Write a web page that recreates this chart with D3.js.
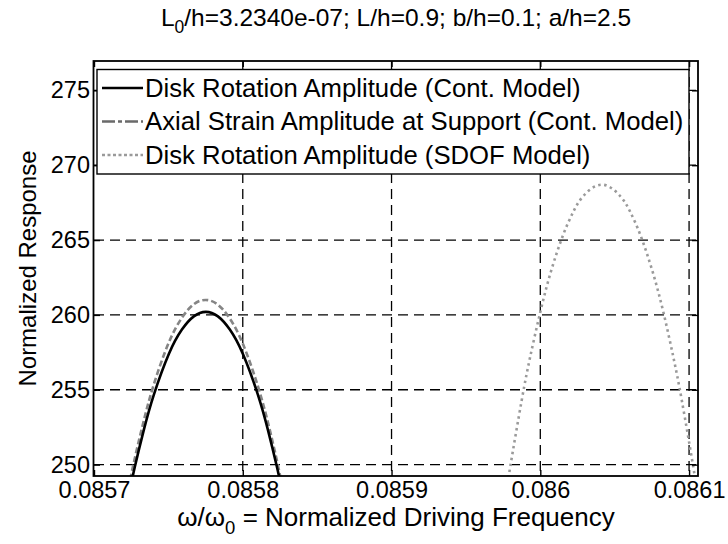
<!DOCTYPE html>
<html>
<head>
<meta charset="utf-8">
<script src="https://cdn.jsdelivr.net/npm/d3@7"></script>
<style>
  html, body { margin: 0; padding: 0; background: #fff; }
  svg { display: block; font-family: "Liberation Sans", Arial, Helvetica, sans-serif; }
</style>
</head>
<body>
<svg id="chart" width="728" height="544"></svg>
<script>
// Frequency-response curves near resonance (normalized units)
const contRotX = [0.0857228, 0.0857275, 0.0857335, 0.0857402, 0.0857503, 0.0857591, 0.0857671, 0.0857752,
                  0.0857833, 0.0857913, 0.0858001, 0.0858102, 0.0858169, 0.0858229, 0.0858276];
const contRotY = [247.73, 249.87, 252.32, 254.66, 257.39, 259.02, 259.90, 260.20,
                  259.90, 259.02, 257.39, 254.66, 252.32, 249.87, 247.73];

const strainX = [0.0857219, 0.0857266, 0.0857327, 0.0857400, 0.0857501, 0.0857589, 0.0857669, 0.0857750,
                 0.0857831, 0.0857911, 0.0857999, 0.0858100, 0.0858174, 0.0858234, 0.0858281];
const strainY = [247.83, 250.06, 252.63, 255.29, 258.11, 259.78, 260.70, 261.00,
                 260.70, 259.78, 258.11, 255.29, 252.63, 250.06, 247.83];

const sdofX = [0.0859761, 0.0859798, 0.0859875, 0.0859932, 0.0859998, 0.0860070, 0.0860153, 0.0860218, 0.0860285,
               0.0860413, 0.0860541, 0.0860608, 0.0860673, 0.0860756, 0.0860829, 0.0860894, 0.0860951, 0.0861028, 0.0861065];
const sdofY = [247.53, 249.86, 254.30, 257.20, 260.11, 262.85, 265.33, 266.81, 267.89,
               268.70, 267.89, 266.81, 265.33, 262.85, 260.11, 257.20, 254.30, 249.86, 247.53];

const xTicks = [0.0857, 0.0858, 0.0859, 0.0860, 0.0861];
const xTickLabels = ["0.0857", "0.0858", "0.0859", "0.086", "0.0861"];
const yTicks = [250, 255, 260, 265, 270, 275];
const xLimits = [0.0857, 0.086106];
const yLimits = [249.24, 276.96];

const seriesNames = [
  "Disk Rotation Amplitude (Cont. Model)",
  "Axial Strain Amplitude at Support (Cont. Model)",
  "Disk Rotation Amplitude (SDOF Model)"
];

const svg = d3.select("#chart");
const pLeft = 94, pRight = 698, pTop = 61, pBottom = 476;

const x = d3.scaleLinear().domain(xLimits).range([pLeft, pRight]);
const y = d3.scaleLinear().domain(yLimits).range([pBottom, pTop]);

svg.append("defs").append("clipPath").attr("id", "plotClip")
  .append("rect").attr("x", pLeft).attr("y", pTop)
  .attr("width", pRight - pLeft).attr("height", pBottom - pTop);

// dashed grid
const grid = svg.append("g");
grid.selectAll("line.gx").data(xTicks.filter(d => d > xLimits[0])).enter().append("line")
  .attr("x1", d => x(d)).attr("x2", d => x(d)).attr("y1", pTop).attr("y2", pBottom)
  .attr("stroke", "#000").attr("stroke-width", 1.3).attr("stroke-dasharray", "10,6");
grid.selectAll("line.gy").data(yTicks).enter().append("line")
  .attr("x1", pLeft).attr("x2", pRight).attr("y1", d => y(d)).attr("y2", d => y(d))
  .attr("stroke", "#000").attr("stroke-width", 1.3).attr("stroke-dasharray", "10,6");

// curves
const plot = svg.append("g").attr("clip-path", "url(#plotClip)");
const line = d3.line().x(d => x(d[0])).y(d => y(d[1])).curve(d3.curveNatural);
const zip = (a, b) => a.map((v, i) => [v, b[i]]);

plot.append("path").datum(zip(strainX, strainY)).attr("d", line)
  .attr("fill", "none").attr("stroke", "#858585").attr("stroke-width", 2.6).attr("stroke-dasharray", "6,3");
plot.append("path").datum(zip(contRotX, contRotY)).attr("d", line)
  .attr("fill", "none").attr("stroke", "#000").attr("stroke-width", 2.6);
plot.append("path").datum(zip(sdofX, sdofY)).attr("d", line)
  .attr("fill", "none").attr("stroke", "#9a9a9a").attr("stroke-width", 2.6).attr("stroke-dasharray", "2.5,3.5");

// inward axes with ticks on all four sides
const tickLen = 6;
const axG = svg.append("g");
const xAxisB = d3.axisBottom(x).tickValues(xTicks).tickFormat((d, i) => xTickLabels[i]).tickSizeInner(-tickLen).tickSizeOuter(0).tickPadding(5);
const xAxisT = d3.axisTop(x).tickValues(xTicks).tickFormat("").tickSizeInner(-tickLen).tickSizeOuter(0);
const yAxisL = d3.axisLeft(y).tickValues(yTicks).tickFormat(d3.format("d")).tickSizeInner(-tickLen).tickSizeOuter(0).tickPadding(4);
const yAxisR = d3.axisRight(y).tickValues(yTicks).tickFormat("").tickSizeInner(-tickLen).tickSizeOuter(0);

function styleAxis(g) {
  g.select(".domain").remove();
  g.selectAll(".tick line").attr("stroke", "#000").attr("stroke-width", 1.4);
  g.selectAll(".tick text").attr("fill", "#000").style("font-size", "23.5px")
    .style("font-family", "\"Liberation Sans\", Arial, sans-serif");
}
axG.append("g").attr("transform", `translate(0,${pBottom})`).call(xAxisB).call(styleAxis);
axG.append("g").attr("transform", `translate(0,${pTop})`).call(xAxisT).call(styleAxis);
axG.append("g").attr("transform", `translate(${pLeft},0)`).call(yAxisL).call(styleAxis);
axG.append("g").attr("transform", `translate(${pRight},0)`).call(yAxisR).call(styleAxis);

// frame
svg.append("rect").attr("x", pLeft - 0.5).attr("y", pTop).attr("width", pRight - pLeft + 0.5).attr("height", pBottom - pTop)
  .attr("fill", "none").attr("stroke", "#000").attr("stroke-width", 1.8);

// legend
const lg = svg.append("g");
const lgX = 97, lgY = 69.5, lgW = 592, lgH = 104.5;
lg.append("rect").attr("x", lgX).attr("y", lgY).attr("width", lgW).attr("height", lgH)
  .attr("fill", "#fff").attr("stroke", "#000").attr("stroke-width", 1.4);
const legendStyles = [
  { stroke: "#000", dash: null },
  { stroke: "#6a6a6a", dash: "13,3,4,3" },
  { stroke: "#9a9a9a", dash: "3,2.5" }
];
const rowY = [88, 121.5, 155];
seriesNames.forEach((name, i) => {
  lg.append("line").attr("x1", 102).attr("x2", 143).attr("y1", rowY[i]).attr("y2", rowY[i])
    .attr("stroke", legendStyles[i].stroke).attr("stroke-width", 2.6)
    .attr("stroke-dasharray", legendStyles[i].dash);
  lg.append("text").attr("x", 145).attr("y", rowY[i]).attr("dy", "0.35em")
    .style("font-size", "25.7px").attr("fill", "#000").text(name);
});

// title
const title = svg.append("text").attr("x", (pLeft + pRight) / 2).attr("y", 26)
  .attr("text-anchor", "middle").style("font-size", "24.5px").attr("fill", "#000");
title.append("tspan").text("L");
title.append("tspan").attr("dy", 7).style("font-size", "17.5px").text("0");
title.append("tspan").attr("dy", -7).text("/h=3.2340e-07; L/h=0.9; b/h=0.1; a/h=2.5");

// x label
const xl = svg.append("text").attr("x", (pLeft + pRight) / 2).attr("y", 526)
  .attr("text-anchor", "middle").style("font-size", "26px").attr("fill", "#000");
xl.append("tspan").text("ω/ω");
xl.append("tspan").attr("dy", 8).style("font-size", "18.5px").text("0");
xl.append("tspan").attr("dy", -8).text(" = Normalized Driving Frequency");

// y label
svg.append("text").attr("transform", `translate(36,${(pTop + pBottom) / 2}) rotate(-90)`)
  .attr("text-anchor", "middle").style("font-size", "24px").attr("fill", "#000")
  .text("Normalized Response");
</script>
</body>
</html>
